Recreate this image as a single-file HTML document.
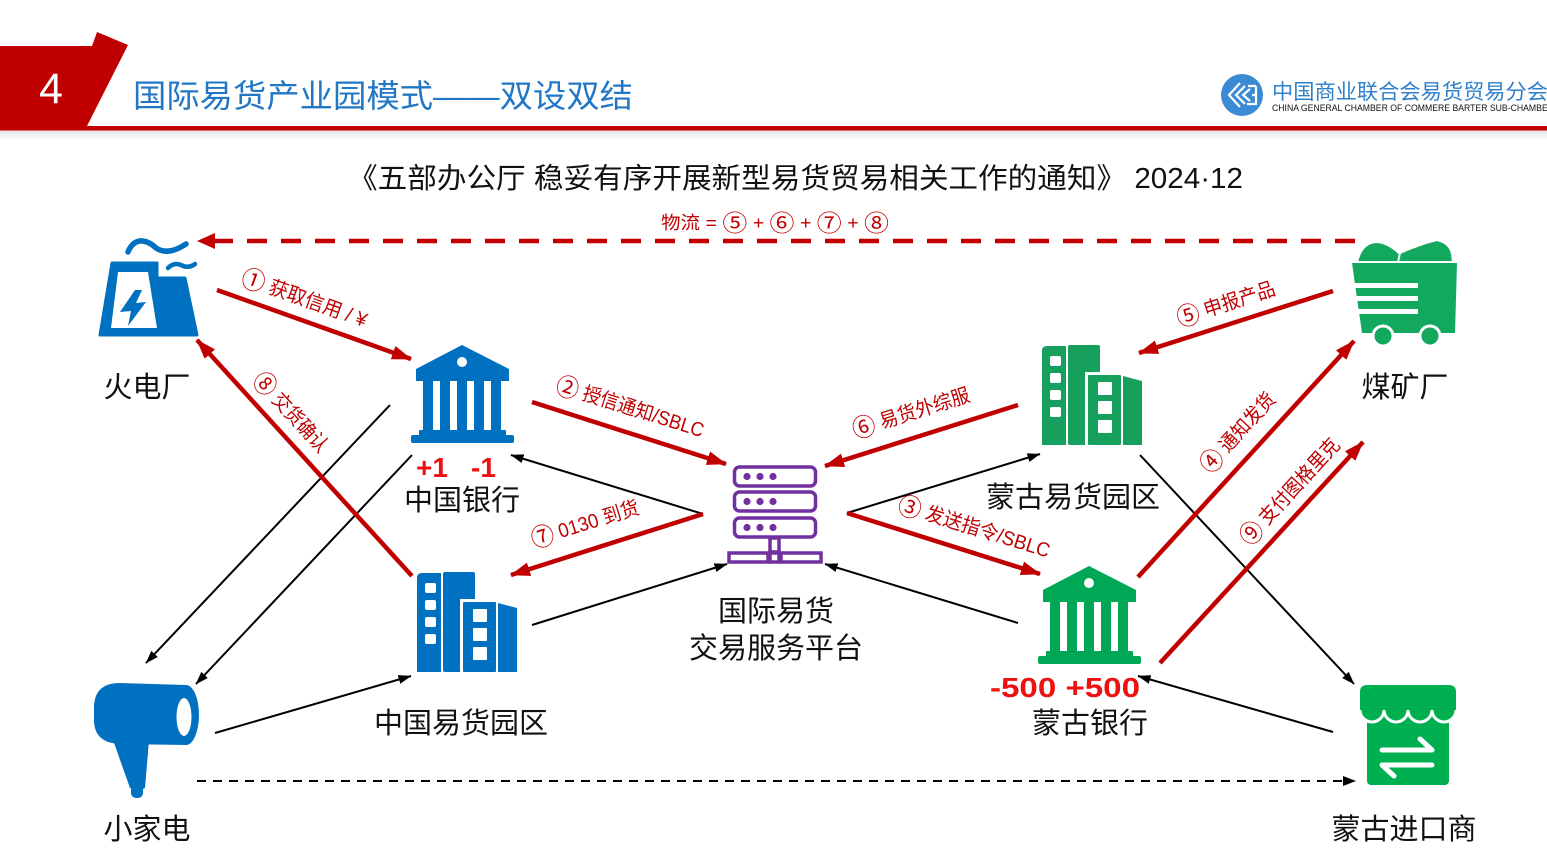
<!DOCTYPE html>
<html><head><meta charset="utf-8">
<style>
html,body{margin:0;padding:0;background:#fff;}
svg{display:block;}
text{font-family:"Liberation Sans","Noto Sans CJK SC",sans-serif;}
.c{font-family:"Noto Sans CJK SC","WenQuanYi Zen Hei",sans-serif;font-size:25px;}
.c2{font-family:"Noto Sans CJK SC","WenQuanYi Zen Hei",sans-serif;font-size:23px;}
</style></head><body>
<svg width="1547" height="858" viewBox="0 0 1547 858" xmlns="http://www.w3.org/2000/svg">
<defs>
<linearGradient id="sh" x1="0" y1="0" x2="0" y2="1"><stop offset="0" stop-color="#e2e2e2"/><stop offset="1" stop-color="#ffffff"/></linearGradient>
<marker id="mr" markerUnits="userSpaceOnUse" markerWidth="20" markerHeight="16" refX="19" refY="8" orient="auto"><path d="M0,1 L20,8 L0,15 Z" fill="#c00000"/></marker>
<marker id="mb" markerUnits="userSpaceOnUse" markerWidth="13" markerHeight="10" refX="12.5" refY="5" orient="auto"><path d="M0,0.5 L13,5 L0,9.5 Z" fill="#000"/></marker>
<g id="bank">
<path d="M462,345 L509,369 L509,381 L416,381 L416,369 Z"/>
<circle cx="462" cy="362" r="5" fill="#fff"/>
<rect x="423" y="380" width="10" height="51"/>
<rect x="440" y="380" width="10" height="51"/>
<rect x="457" y="380" width="10" height="51"/>
<rect x="474" y="380" width="10" height="51"/>
<rect x="491" y="380" width="10" height="51"/>
<rect x="419" y="430" width="87" height="7" rx="1"/>
<rect x="411" y="435" width="103" height="8" rx="2"/>
</g>
<g id="bldg">
<path d="M417,578 Q417,573 422,573 L441,573 L441,672 L417,672 Z"/>
<rect x="443" y="572" width="32" height="100" rx="2"/>
<rect x="460" y="599" width="39" height="73" fill="#fff"/>
<rect x="463" y="602" width="33" height="70" rx="1"/>
<path d="M498,603 L517,608 L517,672 L498,672 Z"/>
<rect x="425" y="583" width="11" height="10" rx="2" fill="#fff"/>
<rect x="425" y="600" width="11" height="10" rx="2" fill="#fff"/>
<rect x="425" y="617" width="11" height="10" rx="2" fill="#fff"/>
<rect x="425" y="634" width="11" height="10" rx="2" fill="#fff"/>
<rect x="473" y="609" width="14" height="13" rx="1" fill="#fff"/>
<rect x="473" y="628" width="14" height="13" rx="1" fill="#fff"/>
<rect x="473" y="647" width="14" height="13" rx="1" fill="#fff"/>
</g>
</defs>

<!-- header -->
<rect x="0" y="130" width="1547" height="10" fill="url(#sh)"/>
<polygon points="0,46 92,46 97,32 128,45 86,128 0,128" fill="#c00000"/>
<rect x="0" y="126" width="1547" height="4.5" fill="#c00000"/>
<text x="51" y="103" font-size="43" fill="#fff" text-anchor="middle">4</text>
<text x="133" y="107" font-size="32" fill="#2277c4" textLength="500" lengthAdjust="spacingAndGlyphs">国际易货产业园模式——双设双结</text>

<!-- logo -->
<circle cx="1242" cy="95" r="21" fill="#3a8ad4"/>
<g fill="none" stroke="#fff" stroke-width="2.2" stroke-linejoin="miter">
<polyline points="1240,83 1229,95 1240,107"/>
<polyline points="1245,86 1236,95 1245,104"/>
<polyline points="1250,89 1243,95 1250,101"/>
<path d="M1256,86 L1248,86 M1256,86 L1256,104 L1247,104 M1252,95 L1256,95"/>
</g>
<text x="1272" y="99" font-size="21" fill="#2f7fc9" textLength="276" lengthAdjust="spacingAndGlyphs">中国商业联合会易货贸易分会</text>
<text x="1272" y="111" font-size="9" fill="#111" textLength="282" lengthAdjust="spacingAndGlyphs">CHINA GENERAL CHAMBER OF COMMERE BARTER SUB-CHAMBER</text>

<!-- subtitle -->
<text x="348" y="188" font-size="28.5" fill="#111" textLength="895" lengthAdjust="spacingAndGlyphs">《五部办公厅 稳妥有序开展新型易货贸易相关工作的通知》 2024·12</text>
<text x="661" y="229" font-size="18" fill="#c00000" textLength="228" lengthAdjust="spacingAndGlyphs">物流 = <tspan class="c2" dy="2">⑤</tspan><tspan dy="-2"> + </tspan><tspan class="c2" dy="2">⑥</tspan><tspan dy="-2"> + </tspan><tspan class="c2" dy="2">⑦</tspan><tspan dy="-2"> + </tspan><tspan class="c2" dy="2">⑧</tspan></text>

<!-- dashed lines -->
<line x1="1355" y1="241" x2="215" y2="241" stroke="#c00000" stroke-width="4.5" stroke-dasharray="20,14"/>
<polygon points="197,241 215,233 215,249" fill="#c00000"/>
<line x1="197" y1="781" x2="1344" y2="781" stroke="#000" stroke-width="2" stroke-dasharray="9,7"/>
<polygon points="1356,781 1343,776 1343,786" fill="#000"/>

<!-- black arrows -->
<g stroke="#000" stroke-width="2" marker-end="url(#mb)">
<line x1="390" y1="405" x2="146" y2="663"/>
<line x1="412" y1="455" x2="196" y2="684"/>
<line x1="215" y1="733" x2="411" y2="676"/>
<line x1="532" y1="625" x2="727" y2="564"/>
<line x1="703" y1="514" x2="511" y2="455"/>
<line x1="847" y1="513" x2="1040" y2="454"/>
<line x1="1018" y1="623" x2="825" y2="564"/>
<line x1="1140" y1="455" x2="1354" y2="684"/>
<line x1="1333" y1="732" x2="1138" y2="676"/>
</g>

<!-- red arrows -->
<g stroke="#c00000" stroke-width="4.5" marker-end="url(#mr)">
<line x1="217" y1="290" x2="411" y2="359"/>
<line x1="412" y1="576" x2="197" y2="340"/>
<line x1="532" y1="402" x2="726" y2="464"/>
<line x1="703" y1="514" x2="511" y2="575"/>
<line x1="1018" y1="405" x2="825" y2="466"/>
<line x1="847" y1="513" x2="1040" y2="574"/>
<line x1="1333" y1="291" x2="1139" y2="353"/>
<line x1="1138" y1="577" x2="1354" y2="341"/>
<line x1="1160" y1="663" x2="1363" y2="442"/>
</g>

<!-- red labels -->
<g font-size="20" fill="#c00000" text-anchor="middle">
<text transform="translate(302,305) rotate(19.7)" dy="7" textLength="132" lengthAdjust="spacingAndGlyphs"><tspan class="c" dy="2">①</tspan><tspan dy="-2"> 获取信用 / ¥</tspan></text>
<text transform="translate(286,417) rotate(47.5)" dy="7" textLength="100" lengthAdjust="spacingAndGlyphs"><tspan class="c" dy="2">⑧</tspan><tspan dy="-2"> 交货确认</tspan></text>
<text transform="translate(628,414) rotate(17.7)" dy="7" textLength="154" lengthAdjust="spacingAndGlyphs"><tspan class="c" dy="2">②</tspan><tspan dy="-2"> 授信通知/SBLC</tspan></text>
<text transform="translate(587,530) rotate(-17.2)" dy="7" textLength="112" lengthAdjust="spacingAndGlyphs"><tspan class="c" dy="2">⑦</tspan><tspan dy="-2"> 0130 到货</tspan></text>
<text transform="translate(913,419) rotate(-17.3)" dy="7" textLength="122" lengthAdjust="spacingAndGlyphs"><tspan class="c" dy="2">⑥</tspan><tspan dy="-2"> 易货外综服</tspan></text>
<text transform="translate(972,534) rotate(17.4)" dy="7" textLength="158" lengthAdjust="spacingAndGlyphs"><tspan class="c" dy="2">③</tspan><tspan dy="-2"> 发送指令/SBLC</tspan></text>
<text transform="translate(1228,310) rotate(-17.8)" dy="7" textLength="102" lengthAdjust="spacingAndGlyphs"><tspan class="c" dy="2">⑤</tspan><tspan dy="-2"> 申报产品</tspan></text>
<text transform="translate(1243,437) rotate(-47.5)" dy="7" textLength="100" lengthAdjust="spacingAndGlyphs"><tspan class="c" dy="2">④</tspan><tspan dy="-2"> 通知发货</tspan></text>
<text transform="translate(1295,496) rotate(-47.4)" dy="7" textLength="136" lengthAdjust="spacingAndGlyphs"><tspan class="c" dy="2">⑨</tspan><tspan dy="-2"> 支付图格里克</tspan></text>
</g>

<!-- power plant -->
<g fill="#0070c0">
<path d="M112,263 L157,263 L157,278 L185,278 L197,335 L100,335 Z" stroke="#0070c0" stroke-width="3" stroke-linejoin="round"/>
<path d="M118,272 L148,272 L157,328 L111,328 Z" fill="#fff"/>
<path d="M135,290 L120,312 L131,311 L128,326 L146,302 L136,303 L142,290 Z"/>
<path d="M128,252 Q133,240 143,241 Q150,242 156,248 Q168,256 186,244" fill="none" stroke="#0070c0" stroke-width="5.5" stroke-linecap="round"/>
<path d="M168,268 Q174,262 181,265 Q188,269 195,264" fill="none" stroke="#0070c0" stroke-width="4.5" stroke-linecap="round"/>
</g>

<!-- banks -->
<use href="#bank" fill="#0070c0"/>
<use href="#bank" fill="#00a856" transform="translate(627,221)"/>

<!-- buildings -->
<use href="#bldg" fill="#0070c0"/>
<use href="#bldg" fill="#17a05d" transform="translate(625,-227)"/>

<!-- hairdryer -->
<g fill="#0070c0">
<path d="M118,683 Q95,684 94,706 L94,722 Q95,742 118,744 L186,745 L186,685 Z"/>
<ellipse cx="186" cy="715" rx="13" ry="30"/>
<ellipse cx="184" cy="717" rx="7.5" ry="19" fill="#fff"/>
<path d="M113,740 L149,740 L145,788 Q138,792 130,788 Z"/>
<rect x="131" y="784" width="12" height="14" rx="5"/>
</g>

<!-- server -->
<g fill="none" stroke="#7030a0" stroke-width="3.5">
<rect x="734.5" y="467" width="81" height="19" rx="5"/>
<rect x="734.5" y="492" width="81" height="19" rx="5"/>
<rect x="734.5" y="518" width="81" height="19" rx="5"/>
<rect x="770" y="538" width="9" height="14"/>
<rect x="729" y="553" width="39" height="9"/>
<rect x="770" y="553" width="9" height="9"/>
<rect x="781" y="553" width="40" height="9"/>
</g>
<g fill="#7030a0">
<circle cx="747" cy="476.5" r="3.6"/><circle cx="760" cy="476.5" r="3.6"/><circle cx="773" cy="476.5" r="3.6"/>
<circle cx="747" cy="501.5" r="3.6"/><circle cx="760" cy="501.5" r="3.6"/><circle cx="773" cy="501.5" r="3.6"/>
<circle cx="747" cy="527.5" r="3.6"/><circle cx="760" cy="527.5" r="3.6"/><circle cx="773" cy="527.5" r="3.6"/>
</g>

<!-- coal cart -->
<g fill="#12a85e">
<path d="M1357,262 Q1362,242 1377,242 Q1392,243 1407,262 Z" stroke="#fff" stroke-width="2"/>
<path d="M1398,262 L1400,253 Q1420,244 1437,240 Q1450,243 1452,254 L1453,262 Z" stroke="#fff" stroke-width="2"/>
<path d="M1352,263 L1457,263 L1455,333 L1362,333 Z"/>
<rect x="1345" y="283" width="73" height="5" fill="#fff"/>
<rect x="1345" y="296" width="73" height="5" fill="#fff"/>
<rect x="1345" y="309" width="73" height="5" fill="#fff"/>
<circle cx="1383" cy="336" r="10" stroke="#fff" stroke-width="3"/>
<circle cx="1430" cy="336" r="10" stroke="#fff" stroke-width="3"/>
</g>

<!-- store -->
<g fill="#00b050">
<rect x="1367" y="712" width="82" height="73" rx="4"/>
<circle cx="1372" cy="710" r="12" stroke="#fff" stroke-width="3"/>
<circle cx="1396" cy="710" r="12" stroke="#fff" stroke-width="3"/>
<circle cx="1420" cy="710" r="12" stroke="#fff" stroke-width="3"/>
<circle cx="1444" cy="710" r="12" stroke="#fff" stroke-width="3"/>
<path d="M1360,710 L1360,692 Q1360,685 1367,685 L1449,685 Q1456,685 1456,692 L1456,710 Z"/>
<path d="M1382,750 L1432,750 L1420,739 M1432,765 L1382,765 L1394,776" fill="none" stroke="#fff" stroke-width="5" stroke-linecap="round" stroke-linejoin="round"/>
</g>

<!-- node labels -->
<g font-size="29" fill="#111" text-anchor="middle">
<text x="147" y="397">火电厂</text>
<text x="462" y="510">中国银行</text>
<text x="461" y="733">中国易货园区</text>
<text x="147" y="839">小家电</text>
<text x="776" y="621">国际易货</text>
<text x="776" y="658">交易服务平台</text>
<text x="1073" y="507">蒙古易货园区</text>
<text x="1090" y="733">蒙古银行</text>
<text x="1405" y="397">煤矿厂</text>
<text x="1404" y="839">蒙古进口商</text>
</g>
<g font-size="28" font-weight="bold" fill="#ee1111">
<text x="416" y="477">+1</text>
<text x="471" y="477">-1</text>
<text x="990" y="697" textLength="150" lengthAdjust="spacingAndGlyphs">-500 +500</text>
</g>
</svg>
</body></html>
